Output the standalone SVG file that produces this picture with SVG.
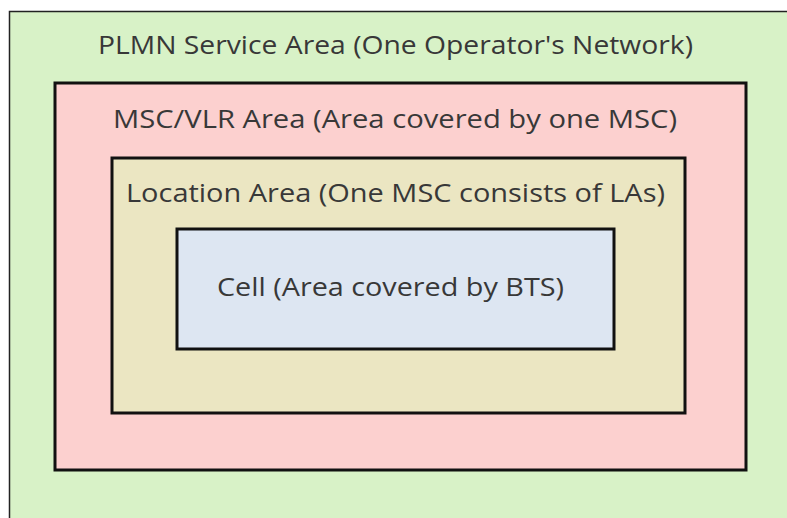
<svg xmlns="http://www.w3.org/2000/svg" width="787" height="518" viewBox="0 0 787 518">
<style>
.lbl{font-family:"Open Sans","Liberation Sans",sans-serif;font-size:26px;fill:#383838}
.box{stroke:#111;stroke-width:3}
</style>
<rect x="0" y="0" width="787" height="518" fill="#ffffff"/>
<g id="plmn">
<rect x="9.5" y="11.5" width="790" height="520" fill="#d8f2c7" stroke="#222" stroke-width="1.5"/>
<text class="lbl" x="98" y="54" textLength="595" lengthAdjust="spacingAndGlyphs">PLMN Service Area (One Operator's Network)</text>
</g>
<g id="msc">
<rect class="box" x="55" y="83" width="691" height="387" fill="#fcd0cf"/>
<text class="lbl" x="113" y="128" textLength="564" lengthAdjust="spacingAndGlyphs">MSC/VLR Area (Area covered by one MSC)</text>
</g>
<g id="la">
<rect class="box" x="112" y="158" width="573" height="255" fill="#ebe6c2"/>
<text class="lbl" x="126" y="202" textLength="539" lengthAdjust="spacingAndGlyphs">Location Area (One MSC consists of LAs)</text>
</g>
<g id="cell">
<rect class="box" x="177" y="229" width="437" height="120" fill="#dde6f2"/>
<text class="lbl" x="217" y="296" textLength="347" lengthAdjust="spacingAndGlyphs">Cell (Area covered by BTS)</text>
</g>
</svg>
